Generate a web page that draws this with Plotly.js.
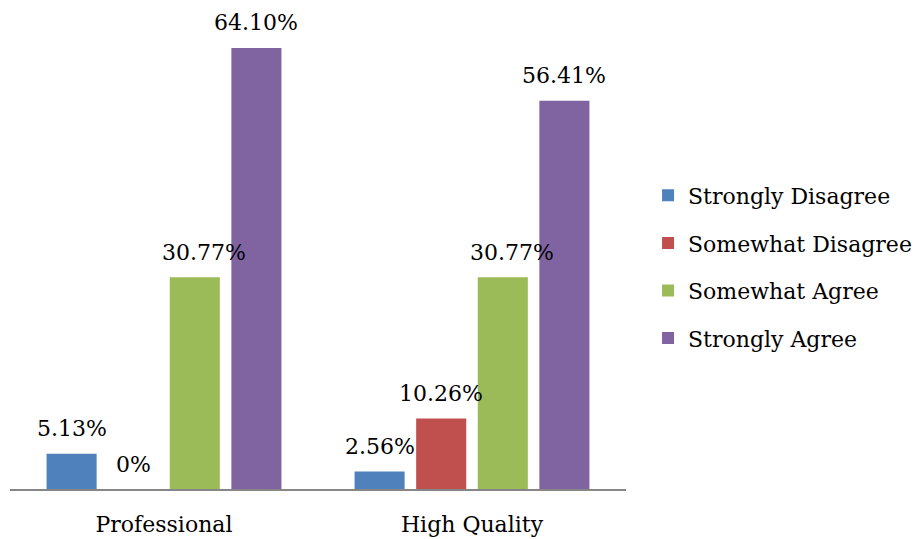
<!DOCTYPE html>
<html>
<head>
<meta charset="utf-8">
<script src="https://cdn.plot.ly/plotly-3.0.1.min.js"></script>
<style>html,body{margin:0;padding:0;background:#fff;}#chart{width:917px;height:539px;}</style>
</head>
<body>
<div id="chart"></div>
<script>
const categories = ["Professional", "High Quality"];
const seriesNames = ["Strongly Disagree", "Somewhat Disagree", "Somewhat Agree", "Strongly Agree"];
const stronglyDisagree = [5.13, 2.56];
const somewhatDisagree = [0, 10.26];
const somewhatAgree = [30.77, 30.77];
const stronglyAgree = [64.10, 56.41];
const valueLabels = [["5.13%", "2.56%"], ["0%", "10.26%"], ["30.77%", "30.77%"], ["64.10%", "56.41%"]];
const colors = ["#4F81BD", "#C0504D", "#9BBB59", "#8064A2"];

const allValues = [stronglyDisagree, somewhatDisagree, somewhatAgree, stronglyAgree];
const FONT = "DejaVu Serif";
const FS = 22;
const W = 917, H = 539;
const margin = {l: 10, r: 291, t: 30, b: 50, pad: 0, autoexpand: false};
const plotW = W - margin.l - margin.r;
const bargap = 0.2;
const slotPx = plotW / categories.length * (1 - bargap) / allValues.length;
const labelNudge = [0, 0, 9, 0];

const traces = allValues.map((vals, i) => ({
  type: "bar",
  name: seriesNames[i],
  x: categories,
  y: vals,
  marker: {color: colors[i], line: {width: 0}},
  legendgroup: "g" + i,
  hoverinfo: "none"
}));

const annotations = [];
allValues.forEach((vals, i) => {
  vals.forEach((v, j) => {
    annotations.push({
      x: categories[j], y: v, xref: "x", yref: "y",
      text: valueLabels[i][j], showarrow: false,
      xanchor: "center", yanchor: "middle",
      xshift: (i - (allValues.length - 1) / 2) * slotPx + labelNudge[i],
      yshift: 25,
      font: {family: FONT, size: FS, color: "#000"}
    });
  });
});

const layout = {
  width: W, height: H,
  margin: margin,
  paper_bgcolor: "#fff", plot_bgcolor: "#fff",
  barmode: "group", bargap: bargap, bargroupgap: 0.187,
  font: {family: FONT, size: FS, color: "#000"},
  showlegend: true,
  legend: {
    xref: "container", yref: "container",
    x: 0.7067, xanchor: "left", y: 0.5046, yanchor: "middle",
    traceorder: "grouped", tracegroupgap: 16,
    font: {family: FONT, size: FS, color: "#000"},
    bgcolor: "rgba(0,0,0,0)"
  },
  xaxis: {
    type: "category", automargin: false,
    showline: true, linecolor: "#868686", linewidth: 1.5,
    ticks: "outside", ticklen: 15, tickcolor: "rgba(0,0,0,0)",
    showgrid: false, zeroline: false,
    tickfont: {family: FONT, size: FS, color: "#000"}
  },
  yaxis: {
    range: [0, 66.71], visible: false, showgrid: false, zeroline: false, fixedrange: true
  },
  annotations: annotations
};

Plotly.newPlot("chart", traces, layout, {displayModeBar: false, staticPlot: true});
</script>
</body>
</html>
